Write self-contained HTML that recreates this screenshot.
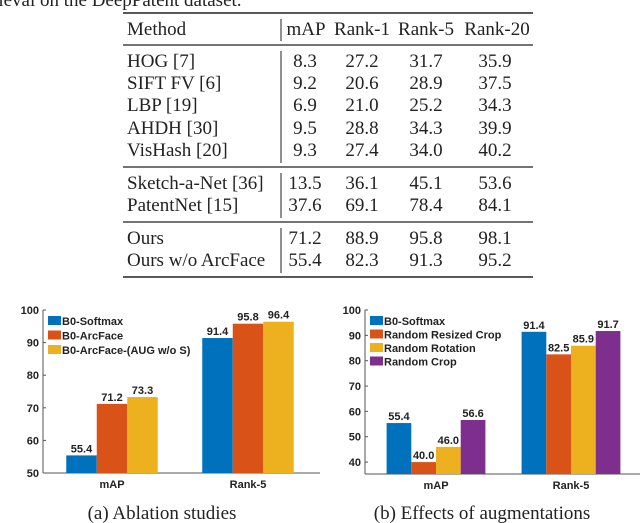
<!DOCTYPE html>
<html><head><meta charset="utf-8"><style>
body{margin:0;width:640px;height:523px;background:#fff;overflow:hidden}
svg{display:block}
.t{font-family:"Liberation Serif",serif;font-size:19px;fill:#222}
.s{font-family:"Liberation Sans",sans-serif;font-size:11px;font-weight:bold;fill:#222}
</style></head><body>
<svg id="root" width="640" height="523">
<text class="t" x="-8" y="6">rieval on the DeepPatent dataset.</text>
<g id="table"></g>
<g id="chartA"></g>
<g id="chartB"></g>
<text class="t" x="162" y="519" text-anchor="middle">(a) Ablation studies</text>
<text class="t" x="482" y="519" text-anchor="middle">(b) Effects of augmentations</text>
</svg>
<script>
const NS="http://www.w3.org/2000/svg";
function mk(p,tag,attrs,txt){const e=document.createElementNS(NS,tag);for(const k in attrs)e.setAttribute(k,attrs[k]);if(txt!==undefined)e.textContent=txt;p.appendChild(e);return e;}

// ---- table ----
const methods=["HOG [7]","SIFT FV [6]","LBP [19]","AHDH [30]","VisHash [20]","Sketch-a-Net [36]","PatentNet [15]","Ours","Ours w/o ArcFace"];
const mapVals=["8.3","9.2","6.9","9.5","9.3","13.5","37.6","71.2","55.4"];
const r1Vals=["27.2","20.6","21.0","28.8","27.4","36.1","69.1","88.9","82.3"];
const r5Vals=["31.7","28.9","25.2","34.3","34.0","45.1","78.4","95.8","91.3"];
const r20Vals=["35.9","37.5","34.3","39.9","40.2","53.6","84.1","98.1","95.2"];
const rowY=[67,89,111,134,156,189,211,244,266];
const T=document.getElementById('table');
[13,45,167,222,277].forEach((y,i)=>{const l=mk(T,'line',{x1:123,x2:533,y1:y,y2:y,stroke:'#222','stroke-width':(i==0||i==4)?1.6:1.2});

});
[[19,41],[51,163],[173,218],[228,273]].forEach(s=>{const l=mk(T,'line',{x1:281,x2:281,y1:s[0],y2:s[1],stroke:'#222','stroke-width':1});

});
const cols=[305,362,426,495];
const hdr=["mAP","Rank-1","Rank-5","Rank-20"];
let h=mk(T,'text',{class:'t',x:127,y:35},"Method");


const hx=[306,362,426,497];
hdr.forEach((t,i)=>{const e=mk(T,'text',{class:'t',x:hx[i],y:35,'text-anchor':'middle'},t);

});
methods.forEach((m,i)=>{const e=mk(T,'text',{class:'t',x:127,y:rowY[i]},m);


[mapVals,r1Vals,r5Vals,r20Vals].forEach((arr,j)=>{const c=mk(T,'text',{class:'t',x:cols[j],y:rowY[i],'text-anchor':'middle'},arr[i]);

});});

// ---- charts ----
const colors=["#0072BD","#D95319","#EDB120","#7E2F8E"];
const groupsA=["mAP","Rank-5"];
const seriesA=["B0-Softmax","B0-ArcFace","B0-ArcFace-(AUG w/o S)"];
const valsA=[[55.4,91.4],[71.2,95.8],[73.3,96.4]];
const ticksA=[50,60,70,80,90,100];
const seriesB=["B0-Softmax","Random Resized Crop","Random Rotation","Random Crop"];
const valsB=[[55.4,91.4],[40.0,82.5],[46.0,85.9],[56.6,91.7]];
const ticksB=[40,50,60,70,80,90,100];

function chart(g,cfg){
  const y=v=>cfg.y0-(v-cfg.vmin)/(cfg.vmax-cfg.vmin)*(cfg.y0-cfg.y1);
  const base=cfg.y0;
  let ax=mk(g,'line',{x1:cfg.x0,x2:cfg.x1,y1:base,y2:base,stroke:'#555'});
  
  
  let ay=mk(g,'line',{x1:cfg.x0,x2:cfg.x0,y1:base,y2:y(100),stroke:'#555'});
  
  
  cfg.ticks.forEach(t=>{const l=mk(g,'line',{x1:cfg.x0,x2:cfg.x0+3,y1:y(t),y2:y(t),stroke:'#555'});
    
    
    const e=mk(g,'text',{class:'s',x:cfg.x0-4,y:y(t)+4,'text-anchor':'end'},t);
    
    });
  cfg.groups.forEach((gn,gi)=>{
    const cx=cfg.gx[gi];const n=cfg.vals.length;
    cfg.vals.forEach((sv,si)=>{
      const bx=cx-n*cfg.bw/2+si*cfg.bw;const v=sv[gi];
      const r=mk(g,'rect',{x:bx,y:y(v),width:cfg.bw,height:base-y(v),fill:colors[si]});
      
      
      const e=mk(g,'text',{class:'s',x:bx+cfg.bw/2,y:y(v)-3,'text-anchor':'middle'},v.toFixed(1));
      
      
    });
    const e=mk(g,'text',{class:'s',x:cx,y:base+15,'text-anchor':'middle','font-weight':'normal'},gn);
    
    
  });
  cfg.series.forEach((s,i)=>{
    const ly=cfg.ly+i*cfg.lstep;
    const r=mk(g,'rect',{x:cfg.x0+5,y:ly-5,width:13,height:9,fill:colors[i]});
    
    
    const e=mk(g,'text',{class:'s',x:cfg.x0+19,y:ly+4},s);
    
    
  });
}
chart(document.getElementById('chartA'),{x0:43,x1:320,y0:473,y1:310,vmin:50,vmax:100,ticks:ticksA,groups:groupsA,gx:[112,248],bw:30.5,vals:valsA,series:seriesA,ly:321,lstep:14.5});
chart(document.getElementById('chartB'),{x0:365,x1:640,y0:474,y1:310,vmin:35.3,vmax:100,ticks:ticksB,groups:groupsA,gx:[436,571],bw:24.7,vals:valsB,series:seriesB,ly:321,lstep:13.5});
</script>
</body></html>
